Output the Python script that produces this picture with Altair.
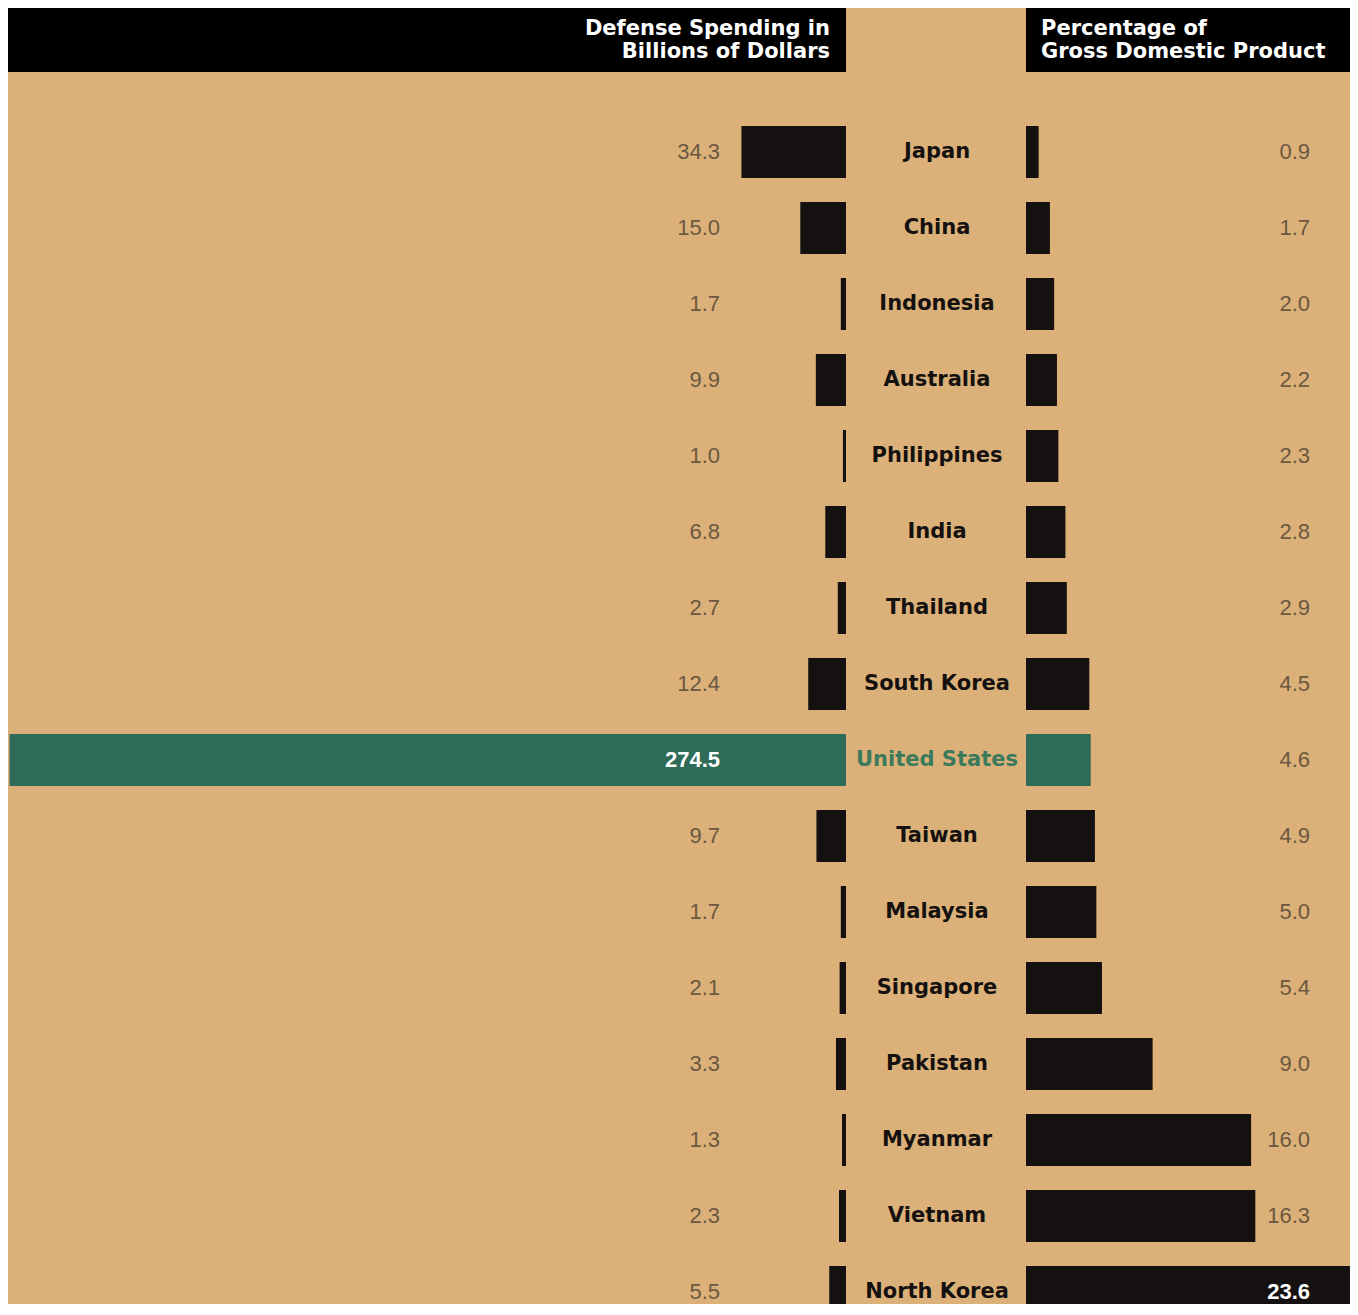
import altair as alt
import pandas as pd

countries = ["Japan", "China", "Indonesia", "Australia", "Philippines", "India",
             "Thailand", "South Korea", "United States", "Taiwan", "Malaysia",
             "Singapore", "Pakistan", "Myanmar", "Vietnam", "North Korea"]
spending = [34.3, 15.0, 1.7, 9.9, 1.0, 6.8, 2.7, 12.4, 274.5, 9.7, 1.7, 2.1, 3.3, 1.3, 2.3, 5.5]
gdp_pct = [0.9, 1.7, 2.0, 2.2, 2.3, 2.8, 2.9, 4.5, 4.6, 4.9, 5.0, 5.4, 9.0, 16.0, 16.3, 23.6]
header_left = ["Defense Spending in", "Billions of Dollars"]
header_right = ["Percentage of", "Gross Domestic Product"]
highlight = "United States"

TAN = "#dcb179"
BLACK = "#151110"
GREEN = "#2e6b59"
GREEN_TXT = "#3b7a5c"
GRAY = "#6b5841"
BOLD_FONT = "DejaVu Sans"
NUM_FONT = "Liberation Sans"
NUM_SIZE = 22
NAME_SIZE = 21
HDR_SIZE = 21

df = pd.DataFrame({"country": countries, "spend": spending, "gdp": gdp_pct,
                   "row": list(range(len(countries)))})
hdr = pd.DataFrame({"h": [0]})

H = 1296
WL, WM, WR = 838, 180, 324
yscale = alt.Scale(domain=[-1.8947, (H - 144) / 76], reverse=True, nice=False, zero=False)
Yrow = alt.Y("row:Q", scale=yscale, axis=None)
is_hl = f"datum.country == '{highlight}'"

base = alt.Chart(df)

# ---------- left panel ----------
xL = alt.Scale(domain=[0, 275], reverse=True, nice=False, zero=False)
barsL = base.transform_calculate(y0="datum.row - 0.342", y1="datum.row + 0.342").mark_rect(clip=True).encode(
    x=alt.X("spend:Q", scale=xL, axis=None), x2=alt.datum(0),
    y=alt.Y("y0:Q", scale=yscale, axis=None), y2="y1:Q",
    color=alt.condition(is_hl, alt.value(GREEN), alt.value(BLACK)))
lblL = base.transform_filter("datum.spend <= 41").mark_text(
    align="right", baseline="middle", font=NUM_FONT, fontSize=NUM_SIZE, color=GRAY).encode(
    x=alt.value(712), y=Yrow, text=alt.Text("spend:Q", format=".1f"))
lblLin = base.transform_filter("datum.spend > 41").mark_text(
    align="right", baseline="middle", font=NUM_FONT, fontSize=NUM_SIZE, fontWeight="bold", color="white").encode(
    x=alt.value(712), y=Yrow, text=alt.Text("spend:Q", format=".1f"))
hdrL = alt.Chart(hdr).mark_rect(color="black").encode(
    x=alt.value(0), x2=alt.value(WL), y=alt.value(0), y2=alt.value(64))
hdrLt = alt.Chart(hdr).mark_text(align="right", baseline="middle", font=BOLD_FONT, fontWeight="bold",
                                 fontSize=HDR_SIZE, lineHeight=23, color="white",
                                 text=header_left).encode(
    x=alt.value(822), y=alt.value(21))
left = alt.layer(barsL, lblL, lblLin, hdrL, hdrLt).properties(width=WL, height=H)

# ---------- middle panel ----------
names = base.mark_text(align="center", baseline="middle", font=BOLD_FONT, fontWeight="bold",
                       fontSize=NAME_SIZE).encode(
    x=alt.value(91), y=Yrow, text="country:N",
    color=alt.condition(is_hl, alt.value(GREEN_TXT), alt.value(BLACK)))
middle = alt.layer(names).properties(width=WM, height=H)

# ---------- right panel ----------
xR = alt.Scale(domain=[0, WR / 14.07], nice=False, zero=False)
barsR = base.transform_calculate(y0="datum.row - 0.342", y1="datum.row + 0.342").mark_rect(clip=True).encode(
    x=alt.X("gdp:Q", scale=xR, axis=None), x2=alt.datum(0),
    y=alt.Y("y0:Q", scale=yscale, axis=None), y2="y1:Q",
    color=alt.condition(is_hl, alt.value(GREEN), alt.value(BLACK)))
lblR = base.transform_filter("datum.gdp <= 20").mark_text(
    align="right", baseline="middle", font=NUM_FONT, fontSize=NUM_SIZE, color=GRAY).encode(
    x=alt.value(284), y=Yrow, text=alt.Text("gdp:Q", format=".1f"))
lblRin = base.transform_filter("datum.gdp > 20").mark_text(
    align="right", baseline="middle", font=NUM_FONT, fontSize=NUM_SIZE, fontWeight="bold", color="white").encode(
    x=alt.value(284), y=Yrow, text=alt.Text("gdp:Q", format=".1f"))
hdrR = alt.Chart(hdr).mark_rect(color="black").encode(
    x=alt.value(0), x2=alt.value(WR), y=alt.value(0), y2=alt.value(64))
hdrRt = alt.Chart(hdr).mark_text(align="left", baseline="middle", font=BOLD_FONT, fontWeight="bold",
                                 fontSize=HDR_SIZE, lineHeight=23, color="white",
                                 text=header_right).encode(
    x=alt.value(15), y=alt.value(21))
right = alt.layer(barsR, lblR, lblRin, hdrR, hdrRt).properties(width=WR, height=H)

chart = alt.hconcat(left, middle, right, spacing=0).properties(
    background=TAN, padding=0).configure_view(stroke=None)

chart.save("out.html", embed_options={"renderer": "svg", "actions": False})
